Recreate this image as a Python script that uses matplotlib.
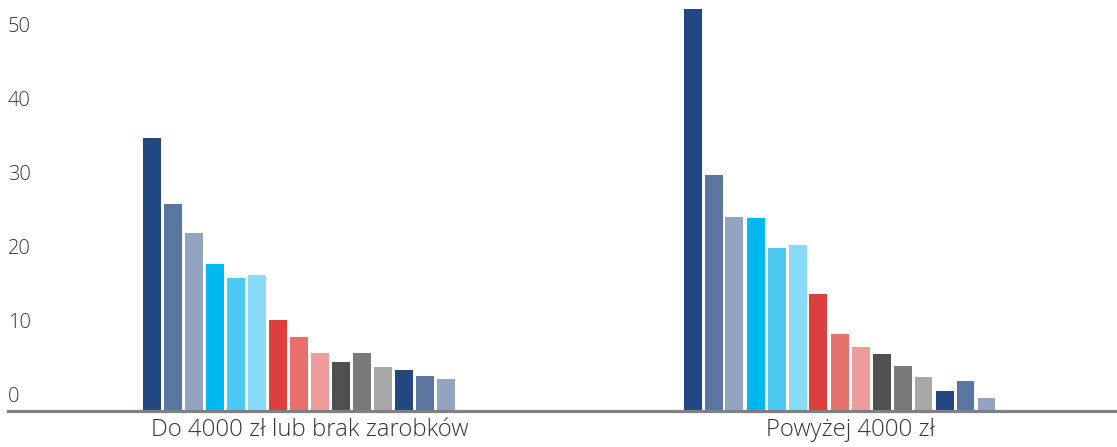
import matplotlib.pyplot as plt
from matplotlib.transforms import blended_transform_factory

categories = ["Do 4000 zł lub brak zarobków", "Powyżej 4000 zł"]

# one list per series, value for each category
series_values = [
    [36.9, 54.3],
    [28.0, 31.9],
    [24.1, 26.2],
    [19.9, 26.1],
    [18.0, 22.0],
    [18.4, 22.4],
    [12.3, 15.8],
    [10.0, 10.4],
    [7.8, 8.6],
    [6.6, 7.7],
    [7.8, 6.1],
    [5.9, 4.6],
    [5.5, 2.7],
    [4.7, 4.1],
    [4.3, 1.8],
]

series_colors = [
    "#234780", "#5A76A0", "#93A4C0",
    "#00B8F0", "#4BC9F2", "#86DBF5",
    "#DD3F3F", "#E5706D", "#EE9C9C",
    "#505050", "#7A7A7A", "#A8A8A8",
    "#234780", "#5A76A0", "#93A4C0",
]

y_ticks = [0, 10, 20, 30, 40, 50]

TEXT_COLOR = "#333333"
AXIS_COLOR = "#808080"
FONT = "Open Sans"


def main():
    fig = plt.figure(figsize=(11.17, 4.47), dpi=100)
    ax = fig.add_axes([8 / 1117, 36 / 447, 1 - 8 / 1117, 411 / 447])

    n_slots = 16
    pitch = 21 / 540
    width = 18 / 540
    for i, (vals, color) in enumerate(zip(series_values, series_colors)):
        offset = (i - (n_slots - 1) / 2) * pitch
        xs = [c + offset for c in range(len(categories))]
        ax.bar(xs, vals, width=width, color=color, linewidth=0, zorder=2)

    ax.set_xlim(-302 / 540, 1 + 267 / 540)
    ax.set_ylim(0, 411 / 7.4)

    for side in ["top", "right", "left"]:
        ax.spines[side].set_visible(False)
    ax.spines["bottom"].set_color(AXIS_COLOR)
    ax.spines["bottom"].set_linewidth(2.3)
    ax.spines["bottom"].set_zorder(3)

    ax.set_yticks([])
    trans = blended_transform_factory(ax.transAxes, ax.transData)
    for t in y_ticks:
        ax.text(0.0, t + 0.5, str(t), transform=trans, ha="left", va="bottom",
                fontsize=14.5, color=TEXT_COLOR, family=FONT, fontweight="light")

    ax.set_xticks(range(len(categories)))
    ax.set_xticklabels(categories, fontsize=17.2, color=TEXT_COLOR, family=FONT,
                       fontweight="light")
    ax.tick_params(axis="x", length=0, pad=5)

    fig.savefig("out.png", dpi=100)
    plt.close(fig)


if __name__ == "__main__":
    main()
